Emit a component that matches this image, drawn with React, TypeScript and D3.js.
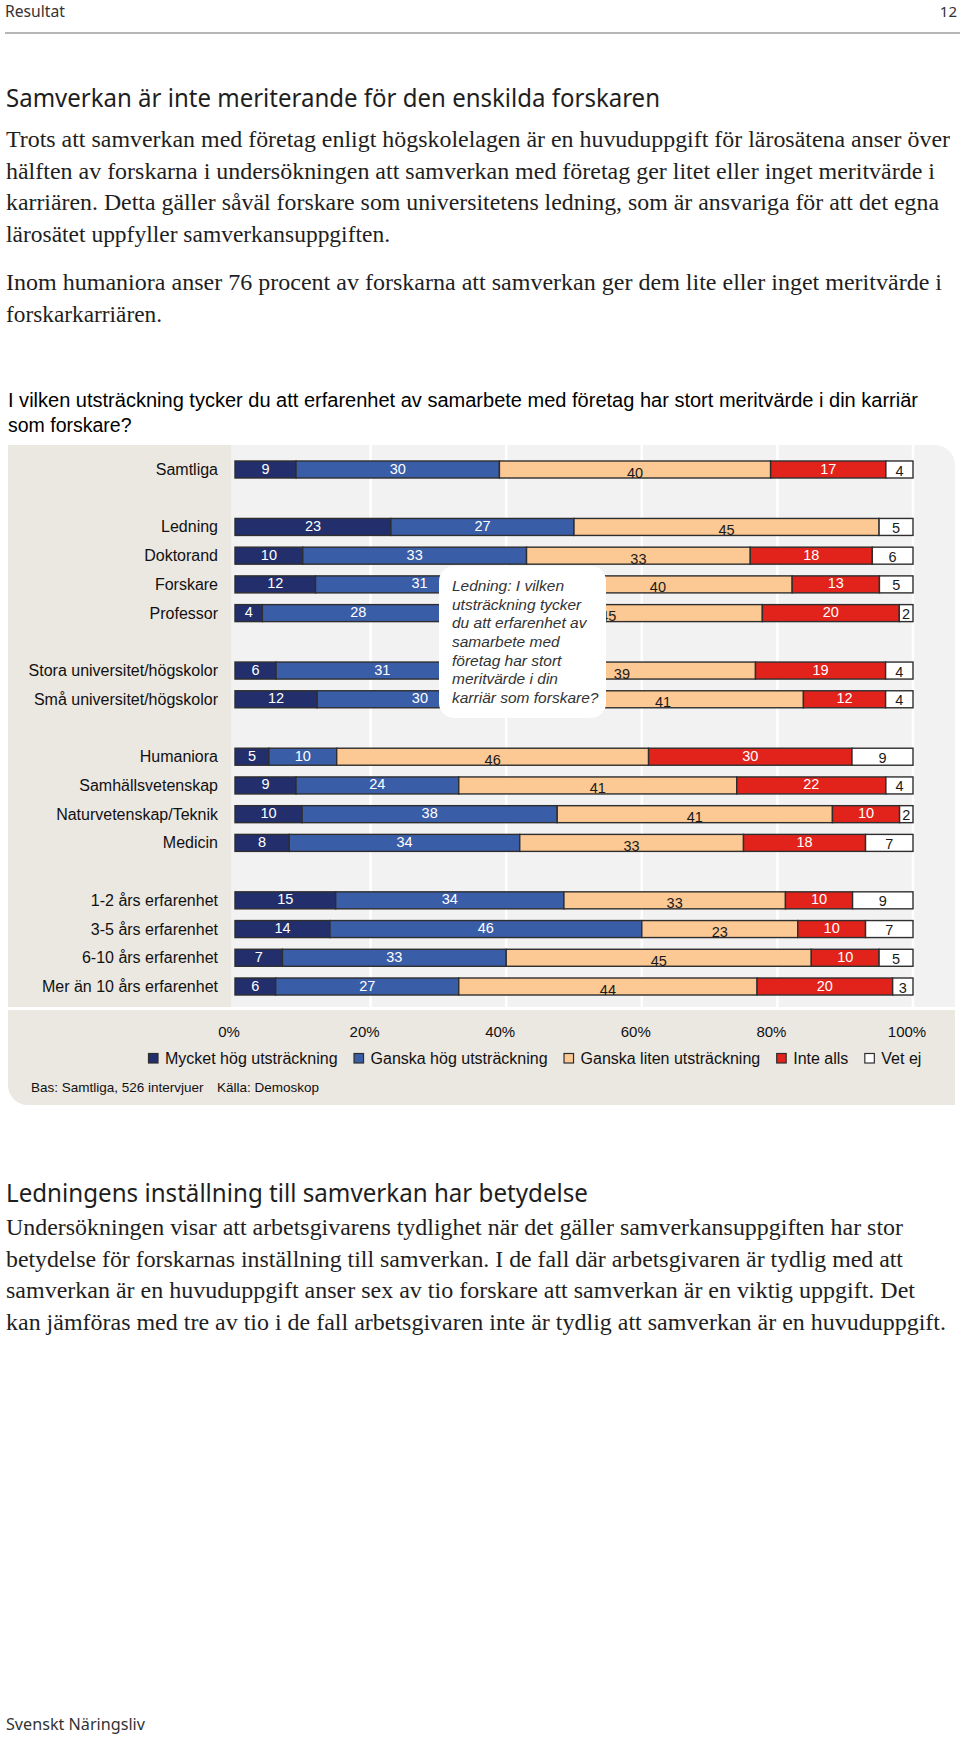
import * as d3 from 'd3'
import React, { useRef, useEffect } from 'react'

// Row groups, a blank row is left between groups
const groups = [
  ['Samtliga'],
  ['Ledning', 'Doktorand', 'Forskare', 'Professor'],
  ['Stora universitet/högskolor', 'Små universitet/högskolor'],
  ['Humaniora', 'Samhällsvetenskap', 'Naturvetenskap/Teknik', 'Medicin'],
  ['1-2 års erfarenhet', '3-5 års erfarenhet', '6-10 års erfarenhet', 'Mer än 10 års erfarenhet'],
]
const categories = groups.flat()

const seriesNames = ['Mycket hög utsträckning', 'Ganska hög utsträckning', 'Ganska liten utsträckning', 'Inte alls', 'Vet ej']
const mycketHog = [9, 23, 10, 12, 4, 6, 12, 5, 9, 10, 8, 15, 14, 7, 6]
const ganskaHog = [30, 27, 33, 31, 28, 31, 30, 10, 24, 38, 34, 34, 46, 33, 27]
const ganskaLiten = [40, 45, 33, 40, 45, 39, 41, 46, 41, 41, 33, 33, 23, 45, 44]
const inteAlls = [17, 0, 18, 13, 20, 19, 12, 30, 22, 10, 18, 10, 10, 10, 20]
const vetEj = [4, 5, 6, 5, 2, 4, 4, 9, 4, 2, 7, 9, 7, 5, 3]
const seriesValues = [mycketHog, ganskaHog, ganskaLiten, inteAlls, vetEj]

const seriesColors = ['#222f6c', '#3a5da8', '#fcc893', '#e1231b', '#ffffff']
const labelColors = ['#ffffff', '#ffffff', '#1a1a1a', '#ffffff', '#1a1a1a']
const tickValues = [0, 20, 40, 60, 80, 100]

const calloutLines = [
  'Ledning: I vilken',
  'utsträckning tycker',
  'du att erfarenhet av',
  'samarbete med',
  'företag har stort',
  'meritvärde i din',
  'karriär som forskare?',
]

const para1 = [
  'Trots att samverkan med företag enligt högskolelagen är en huvuduppgift för lärosätena anser över',
  'hälften av forskarna i undersökningen att samverkan med företag ger litet eller inget meritvärde i',
  'karriären. Detta gäller såväl forskare som universitetens ledning, som är ansvariga för att det egna',
  'lärosätet uppfyller samverkansuppgiften.',
]
const para2 = [
  'Inom humaniora anser 76 procent av forskarna att samverkan ger dem lite eller inget meritvärde i',
  'forskarkarriären.',
]
const para3 = [
  'Undersökningen visar att arbetsgivarens tydlighet när det gäller samverkansuppgiften har stor',
  'betydelse för forskarnas inställning till samverkan. I de fall där arbetsgivaren är tydlig med att',
  'samverkan är en huvuduppgift anser sex av tio forskare att samverkan är en viktig uppgift. Det',
  'kan jämföras med tre av tio i de fall arbetsgivaren inte är tydlig att samverkan är en huvuduppgift.',
]
// rendered widths of the text lines in the page
const para1Widths = [944, 929, 933, 384]
const para2Widths = [936, 156]
const para3Widths = [897, 897, 909, 940]

const SANS = "'Liberation Sans', Arial, sans-serif"
const SERIF = "'Liberation Serif', 'Times New Roman', serif"
const HUMAN = "'Noto Sans', 'Open Sans', sans-serif"

const App = () => {
  const ref = useRef<SVGSVGElement | null>(null)

  useEffect(() => {
    const svg = d3.select(ref.current)
    svg.selectAll('*').remove()

    const text = (x, y, str, size, family, opts: any = {}) => {
      const t = svg.append('text')
        .attr('x', x)
        .attr('y', y)
        .attr('font-family', family)
        .attr('font-size', size)
        .attr('fill', opts.fill || '#1e1e1e')
        .attr('text-anchor', opts.anchor || 'start')
        .text(str)
      if (opts.width) t.attr('textLength', opts.width).attr('lengthAdjust', 'spacingAndGlyphs')
      if (opts.italic) t.attr('font-style', 'italic')
      if (opts.baseline) t.attr('dominant-baseline', opts.baseline)
      return t
    }

    // page header
    text(5, 17, 'Resultat', 16, HUMAN, { fill: '#333', width: 60 })
    text(957, 17, '12', 15, HUMAN, { fill: '#333', anchor: 'end' })
    svg.append('line').attr('x1', 5).attr('x2', 960).attr('y1', 33).attr('y2', 33)
      .attr('stroke', '#6e6e6e').attr('stroke-width', 1.2)

    text(6, 107, 'Samverkan är inte meriterande för den enskilda forskaren', 25, HUMAN, { width: 654 })
    para1.forEach((l, i) => text(6, 147 + i * 31.7, l, 23, SERIF, { width: para1Widths[i] }))
    para2.forEach((l, i) => text(6, 290 + i * 31.7, l, 23, SERIF, { width: para2Widths[i] }))

    // chart title
    text(8, 407, 'I vilken utsträckning tycker du att erfarenhet av samarbete med företag har stort meritvärde i din karriär', 19.5, SANS, { fill: '#000', width: 910 })
    text(8, 432, 'som forskare?', 19.5, SANS, { fill: '#000' })

    // chart panel
    const top = 445
    const plotBottom = 1007
    const x = d3.scaleLinear().domain([0, 1]).range([235, 913])

    const slots: string[] = []
    groups.forEach((g, i) => {
      if (i > 0) slots.push(`gap${i}`)
      g.forEach(c => slots.push(c))
    })
    const y = d3.scalePoint().domain(slots).range([469.5, 986.5])
    const barH = 17

    svg.append('rect').attr('x', 8).attr('y', top).attr('width', 223).attr('height', plotBottom - top)
      .attr('fill', '#ebe7e1')
    svg.append('path')
      .attr('d', `M231,${top} H935 A20,20 0 0 1 955,${top + 20} V${plotBottom} H231 Z`)
      .attr('fill', '#f2f2f2')
    svg.append('path')
      .attr('d', `M8,1010 H955 V1105 H28 A20,20 0 0 1 8,1085 Z`)
      .attr('fill', '#ebe7e1')

    svg.selectAll('.grid')
      .data(tickValues.slice(1))
      .enter().append('line')
      .attr('x1', d => x(d / 100))
      .attr('x2', d => x(d / 100))
      .attr('y1', top)
      .attr('y2', plotBottom)
      .attr('stroke', '#ffffff')
      .attr('stroke-width', 2.5)

    // row labels
    categories.forEach(c => {
      text(218, y(c), c, 16, SANS, { fill: '#111', anchor: 'end', baseline: 'central' })
    })

    // stacked bars
    const keys = seriesNames
    const rows = categories.map((c, i) => {
      const r: any = { category: c }
      keys.forEach((k, j) => { r[k] = seriesValues[j][i] })
      return r
    })
    const stacked = d3.stack().keys(keys).offset(d3.stackOffsetExpand)(rows)

    stacked.forEach((layer, j) => {
      const g = svg.append('g')
      layer.forEach((seg: any, i) => {
        const v = seriesValues[j][i]
        if (!v) return
        const cy = y(categories[i])
        g.append('rect')
          .attr('x', x(seg[0]))
          .attr('y', cy - barH / 2)
          .attr('width', x(seg[1]) - x(seg[0]))
          .attr('height', barH)
          .attr('fill', seriesColors[j])
          .attr('stroke', '#2e2e2e')
          .attr('stroke-width', 1.4)
      })
    })
    stacked.forEach((layer, j) => {
      layer.forEach((seg: any, i) => {
        const v = seriesValues[j][i]
        if (!v) return
        const cy = y(categories[i])
        const dy = j === 2 ? 3 : (j === 4 ? 1 : -1)
        text((x(seg[0]) + x(seg[1])) / 2, cy + dy, String(v), 14.5, SANS,
          { fill: labelColors[j], anchor: 'middle', baseline: 'central' })
      })
    })

    // callout
    svg.append('rect').attr('x', 439).attr('y', 566).attr('width', 167).attr('height', 152)
      .attr('rx', 15).attr('fill', '#ffffff')
    calloutLines.forEach((l, i) => text(452, 591 + i * 18.67, l, 15.5, SANS, { fill: '#333', italic: true }))

    // axis tick labels
    tickValues.forEach(t => {
      text(x(t / 100) - 6, 1037, `${t}%`, 15, SANS, { fill: '#111', anchor: 'middle' })
    })

    // legend
    let lx = 148
    seriesNames.forEach((name, j) => {
      svg.append('rect').attr('x', lx + 0.5).attr('y', 1053.5).attr('width', 9.5).attr('height', 9.5)
        .attr('fill', seriesColors[j]).attr('stroke', '#2e2e2e').attr('stroke-width', 1.2)
      const t: any = text(lx + 17, 1064, name, 16, SANS, { fill: '#111' })
      lx += 17 + t.node().getComputedTextLength() + 16
    })

    text(31, 1092, 'Bas: Samtliga, 526 intervjuer', 13.5, SANS, { fill: '#111' })
    text(217, 1092, 'Källa: Demoskop', 13.5, SANS, { fill: '#111' })

    // text after the chart
    text(6, 1202, 'Ledningens inställning till samverkan har betydelse', 25, HUMAN, { width: 582 })
    para3.forEach((l, i) => text(6, 1235 + i * 31.7, l, 23, SERIF, { width: para3Widths[i] }))

    text(6, 1730, 'Svenskt Näringsliv', 16, HUMAN, { fill: '#333', width: 139 })
  }, [])

  return (
    <svg ref={ref} width={960} height={1738}
      style={{ position: 'absolute', left: 0, top: 0, background: '#fff' }} />
  )
}

export default App
